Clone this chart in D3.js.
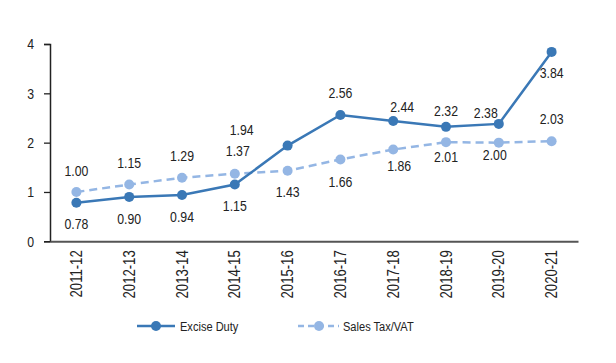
<!DOCTYPE html>
<html><head><meta charset="utf-8">
<script src="https://cdn.jsdelivr.net/npm/d3@7"></script>
<style>
body{margin:0;background:#fff;}
text{font-family:"Liberation Sans Narrow","Arial Narrow","Liberation Sans",Arial,sans-serif;fill:#222;}
</style></head><body>
<svg id="c" width="616" height="363"></svg>
<script>
const categories = ["2011-12","2012-13","2013-14","2014-15","2015-16","2016-17","2017-18","2018-19","2019-20","2020-21"];
const exciseDuty = [0.78,0.90,0.94,1.15,1.94,2.56,2.44,2.32,2.38,3.84];
const salesTax = [1.00,1.15,1.29,1.37,1.43,1.66,1.86,2.01,2.00,2.03];
const yTicks = [0,1,2,3,4];
const seriesNames = ["Excise Duty","Sales Tax/VAT"];

// label offsets (style only): [dx, dy] relative to point
const exciseLabelOff = [[0,21],[0,22],[0,22],[0,21],[-46,-16],[0,-22],[9,-14],[0,-16],[-13,-11],[0,21]];
const salesLabelOff = [[0,-21],[0,-22],[0,-22],[3,-23],[0,21],[0,22],[6,16],[0,15],[-4,12],[0,-22]];

const SX = 0.82; // emulate narrow font
const svg = d3.select("#c");
const x = d3.scaleBand().domain(categories).range([50,578]);
const y = d3.scaleLinear().domain([0,4]).range([241.3,44]);
const cx = d => x(d) + x.bandwidth()/2;

// y axis
const ya = svg.append("g").attr("transform","translate(50,0)")
  .call(d3.axisLeft(y).tickValues(yTicks).tickSize(6).tickPadding(0).tickFormat(d3.format("d")));
ya.select(".domain").attr("stroke","#222").attr("stroke-width",1.5);
ya.selectAll(".tick line").attr("stroke","#222").attr("stroke-width",1.3);
ya.selectAll(".tick text").attr("font-size",15).style("font-family",null).attr("fill","#222")
  .attr("x",null).attr("transform",`translate(-16,0) scale(${SX},1)`);

// x axis
const xa = svg.append("g").attr("transform","translate(0,241.3)")
  .call(d3.axisBottom(x).tickSize(0).tickPadding(0));
xa.select(".domain").attr("stroke","#555").attr("stroke-width",2);
xa.selectAll(".tick text").attr("font-size",16).style("font-family",null).attr("fill","#222")
  .attr("x",0).attr("y",0).attr("dy","0.35em").attr("text-anchor","end")
  .attr("transform",`translate(0,9) rotate(-90) scale(${SX},1)`);

const colE = "#3a78b6", colS = "#94b6e4";
const line = d3.line().x((d,i)=>cx(categories[i])).y(d=>y(d));

svg.append("path").datum(salesTax).attr("d",line).attr("fill","none")
  .attr("stroke",colS).attr("stroke-width",2.5).attr("stroke-dasharray","8,5");
svg.append("path").datum(exciseDuty).attr("d",line).attr("fill","none")
  .attr("stroke",colE).attr("stroke-width",2.5);

svg.selectAll(".ps").data(salesTax).enter().append("circle")
  .attr("cx",(d,i)=>cx(categories[i])).attr("cy",d=>y(d)).attr("r",5).attr("fill",colS);
svg.selectAll(".pe").data(exciseDuty).enter().append("circle")
  .attr("cx",(d,i)=>cx(categories[i])).attr("cy",d=>y(d)).attr("r",5).attr("fill",colE);

const fmt = d3.format(".2f");
function labels(data, off){
  svg.append("g").selectAll("text").data(data).enter().append("text")
    .attr("transform",(d,i)=>`translate(${cx(categories[i])+off[i][0]},${y(d)+off[i][1]}) scale(${SX},1)`)
    .attr("dy","0.35em").attr("text-anchor","middle").attr("font-size",15)
    .text(d=>fmt(d));
}
labels(exciseDuty, exciseLabelOff);
labels(salesTax, salesLabelOff);

// legend
const lg = svg.append("g");
lg.append("line").attr("x1",137).attr("x2",175).attr("y1",326).attr("y2",326).attr("stroke",colE).attr("stroke-width",2.5);
lg.append("circle").attr("cx",156).attr("cy",326).attr("r",5).attr("fill",colE);
lg.append("text").attr("transform",`translate(180,326) scale(${SX},1)`).attr("dy","0.35em").attr("font-size",13.5).text(seriesNames[0]);
lg.append("line").attr("x1",298).attr("x2",339).attr("y1",326).attr("y2",326).attr("stroke",colS).attr("stroke-width",2.5).attr("stroke-dasharray","6,4");
lg.append("circle").attr("cx",319).attr("cy",326).attr("r",5).attr("fill",colS);
lg.append("text").attr("transform",`translate(343,326) scale(${SX},1)`).attr("dy","0.35em").attr("font-size",13.5).text(seriesNames[1]);
</script></body></html>
